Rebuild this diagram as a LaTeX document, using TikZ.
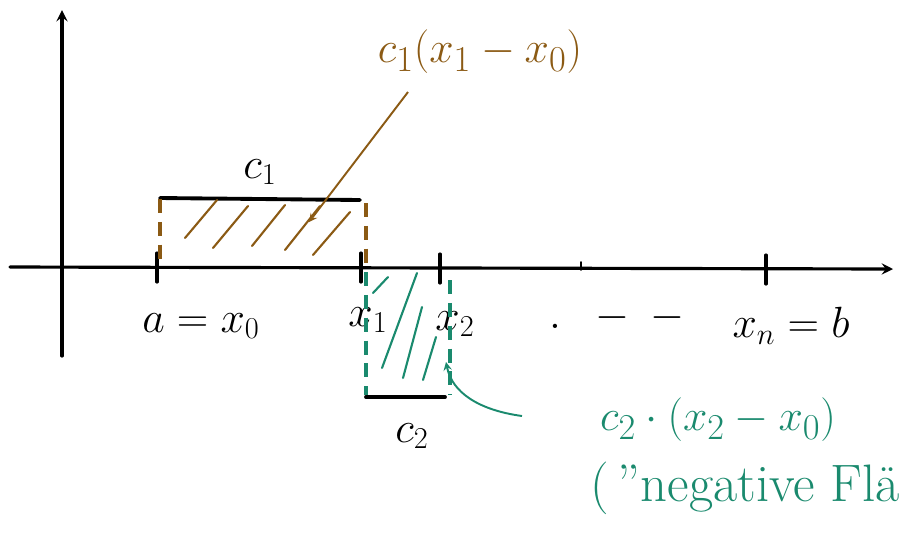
\documentclass[tikz,border=0pt]{standalone}
\usepackage{amsmath,amssymb}
\usepackage{xcolor}
\usepackage{tikz}
\usetikzlibrary{arrows,positioning,calc}
\definecolor{sketchbrown}{RGB}{139,90,20}
\definecolor{sketchgreen}{RGB}{26,138,110}

\begin{document}
\begin{tikzpicture}[
        x=0.02cm, y=-0.02cm,
        axis/.style={line width=1.8pt, line cap=round},
        tickmark/.style={line width=1.8pt, line cap=round},
        bar/.style={line width=2.2pt, line cap=round},
        lbl/.style={font=\fontsize{24}{28}\selectfont, inner sep=1pt},
        brownedge/.style={draw=sketchbrown, line width=1.8pt, dash pattern=on 8pt off 5pt},
        greenedge/.style={draw=sketchgreen, line width=1.8pt, dash pattern=on 8pt off 5pt},
        brownhatch/.style={draw=sketchbrown, line width=1.2pt, line cap=round},
        greenhatch/.style={draw=sketchgreen, line width=1.2pt, line cap=round},
        brownlabel/.style={text=sketchbrown, font=\fontsize{28}{32}\selectfont, inner sep=1pt},
        greenlabel/.style={text=sketchgreen, font=\fontsize{30}{36}\selectfont, inner sep=1pt},
        arrow/.style={->, line width=1.1pt, >=stealth}
    ]
    \useasboundingbox (0,0) rectangle (902,539);

    % === Axes ===
    \coordinate (xstart) at (10,267);
    \coordinate (xend) at (893,269);
    \coordinate (ystart) at (62,356);
    \coordinate (yend) at (62,10);
    \draw[axis, arrow, line width=1.8pt] (xstart) -- (xend);
    \draw[axis, arrow, line width=1.8pt] (ystart) -- (yend);

    % === Tick marks ===
    \coordinate (t0) at (157,267);
    \coordinate (t1) at (361,267);
    \coordinate (t2) at (440,268);
    \coordinate (tn) at (766,269);
    \foreach \t in {t0,t1,t2,tn}
        \draw[tickmark] ($(\t)+(0,-14)$) -- ($(\t)+(0,15)$);
    \coordinate (tdot) at (581,268);
    \draw[tickmark, line width=1pt] ($(tdot)+(0,-6)$) -- ($(tdot)+(0,2)$);

    % Axis labels
    \node[lbl] (lx0) at (201,326) {$a=x_0$};
    \node[lbl] (lx1) at (368,320) {$x_1$};
    \node[lbl] (lx2) at (455,324) {$x_2$};
    \node[lbl] (ldots) at (617,318) {$.\;\;-\;-$};
    \node[lbl] (lxn) at (791,326) {$x_n=b$};

    % === First rectangle (c_1, above axis) ===
    \draw[bar] (160,198) -- (360,200);
    \node[lbl] (lc1) at (260,172) {$c_1$};
    \draw[brownedge] (160,199) -- (160,266);
    \draw[brownedge] (366,203) -- (366,266);
    \foreach \xa/\ya/\xb/\yb in {185/238/217/200, 213/248/248/206, 252/246/285/205, 285/250/320/206, 313/255/350/212}
        \draw[brownhatch] (\xa,\ya) -- (\xb,\yb);

    % === Second rectangle (c_2, below axis) ===
    \draw[bar] (366,397) -- (445,397);
    \node[lbl] (lc2) at (412,436) {$c_2$};
    \draw[greenedge] (366,272) -- (366,395);
    \draw[greenedge] (450,280) -- (450,395);
    \foreach \xa/\ya/\xb/\yb in {373/293/388/277, 382/368/417/273, 403/378/422/307, 423/380/436/337}
        \draw[greenhatch] (\xa,\ya) -- (\xb,\yb);

    % === Area labels ===
    \node[brownlabel] (area1) at (480,52) {$c_1(x_1-x_0)$};
    \coordinate (c1start) at (408,92);
    \coordinate (c1end) at (309,222);
    \draw[arrow, draw=sketchbrown] (c1start) -- (c1end);

    \node[greenlabel] (area2) at (718,420) {$c_2\cdot(x_2-x_0)$};
    \node[greenlabel, anchor=east] (area2note) at (902,488) {(\,"negative Flä};
    \coordinate (c2start) at (522,416);
    \coordinate (c2end) at (446,362);
    \draw[arrow, draw=sketchgreen] (c2start) .. controls (478,410) and (452,392) .. (c2end);

\end{tikzpicture}
\end{document}
